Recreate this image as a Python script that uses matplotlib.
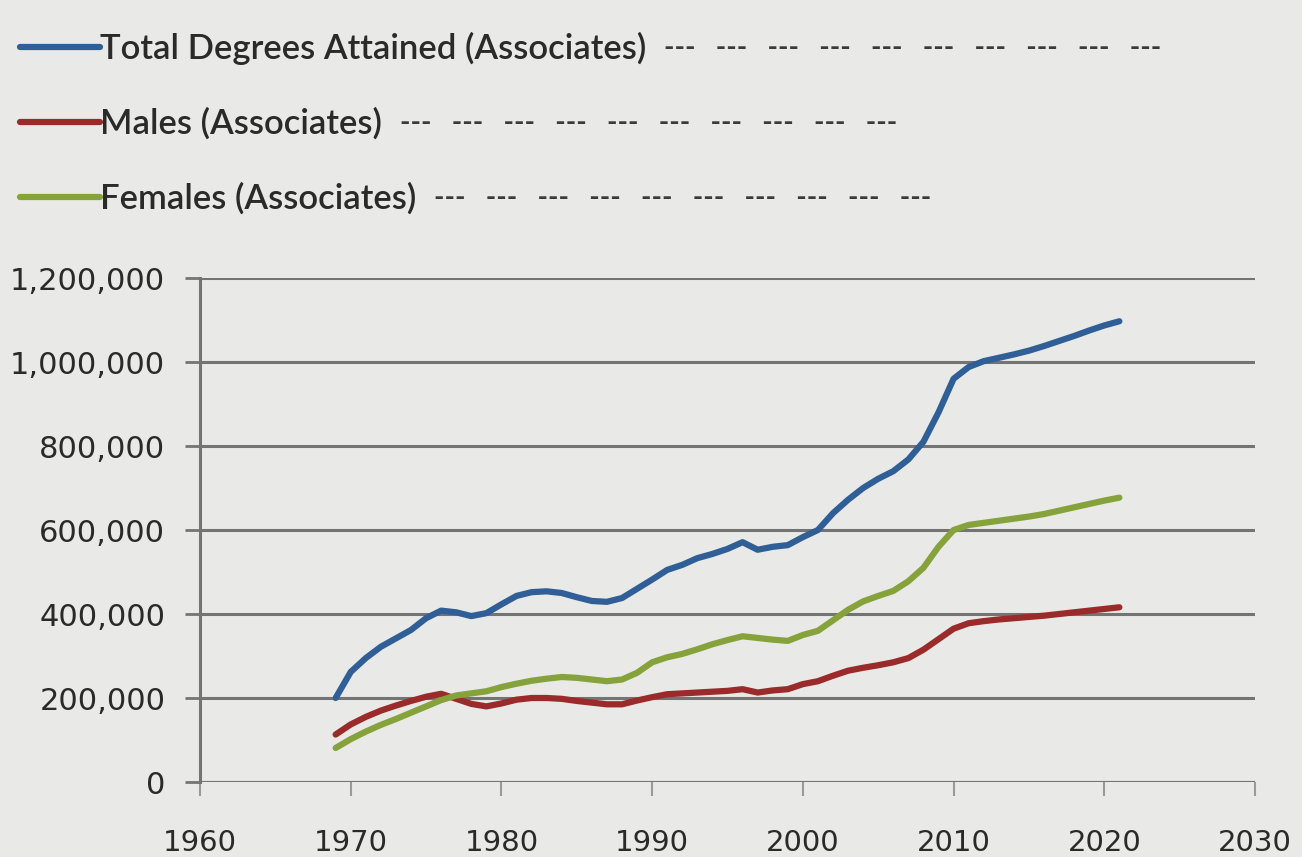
import matplotlib
matplotlib.use("Agg")
import matplotlib.pyplot as plt
from matplotlib.ticker import FuncFormatter, MultipleLocator
from matplotlib.font_manager import FontProperties

years = list(range(1969, 2022))
total = [200, 262, 295, 322, 342, 362, 390, 408, 404, 395, 402, 423, 443, 452, 454,
         450, 440, 431, 429, 438, 460, 482, 505, 517, 533, 543, 555, 571, 553, 560,
         564, 583, 600, 640, 672, 700, 722, 740, 768, 810, 880, 960, 988, 1002, 1010,
         1018, 1027, 1038, 1050, 1062, 1075, 1087, 1097]
males = [113, 137, 155, 170, 182, 193, 203, 210, 198, 186, 180, 187, 196, 200, 200,
         198, 193, 189, 185, 185, 194, 202, 209, 211, 213, 215, 217, 221, 213, 218,
         221, 233, 240, 253, 265, 272, 278, 285, 295, 315, 340, 365, 378, 383, 387,
         390, 393, 396, 400, 404, 408, 412, 416]
females = [81, 102, 120, 136, 150, 165, 180, 195, 206, 211, 216, 226, 234, 241, 246,
           250, 248, 244, 240, 244, 260, 285, 297, 305, 316, 328, 338, 347, 343, 339,
           336, 350, 360, 385, 410, 430, 443, 455, 478, 510, 560, 600, 612, 617, 622,
           627, 632, 638, 646, 654, 662, 670, 677]
labels = ["Total Degrees Attained (Associates)", "Males (Associates)", "Females (Associates)"]
colors = ["#2f5f96", "#9a2b2a", "#86a23b"]
dash_counts = [10, 10, 10]

bg = "#e9e9e7"
grid_c = "#747474"
text_c = "#2a2a2a"

plt.rcParams["font.family"] = ["DejaVu Sans"]

fig = plt.figure(figsize=(13.02, 8.57), dpi=100, facecolor=bg)
ax = fig.add_axes([200 / 1302, 1 - 782 / 857, (1255 - 200) / 1302, (782 - 278) / 857])
ax.set_facecolor(bg)

series = [total, males, females]
handles = []
for vals, c, lab in zip(series, colors, labels):
    h, = ax.plot(years, [v * 1000 for v in vals], color=c, lw=4.5,
                 solid_joinstyle="round", solid_capstyle="round", label=lab)
    handles.append(h)

ax.set_xlim(1960, 2030)
ax.set_ylim(0, 1200000)
ax.xaxis.set_major_locator(MultipleLocator(10))
ax.yaxis.set_major_locator(MultipleLocator(200000))
ax.yaxis.set_major_formatter(FuncFormatter(lambda v, p: f"{int(v):,}"))
ax.grid(axis="y", color=grid_c, lw=2.2)
ax.set_axisbelow(True)
for s in ["top", "right", "bottom"]:
    ax.spines[s].set_visible(False)
ax.spines["left"].set_color(grid_c)
ax.spines["left"].set_linewidth(2.2)
ax.axhline(0, color=grid_c, lw=2.2, zorder=0.5)
ax.tick_params(axis="y", length=11, width=2, color=grid_c, pad=14,
               labelsize=22, labelcolor=text_c)
ax.tick_params(axis="x", length=10, width=1.5, color="#9a9a9a", pad=24,
               labelsize=21, labelcolor=text_c)

leg_prop = FontProperties(family=["Lato", "DejaVu Sans"], size=24.9, weight="semibold")
leg = fig.legend(handles=handles, loc="upper left", bbox_to_anchor=(20 / 1302, 1 - 32 / 857),
                 frameon=False, handlelength=2.31, handletextpad=0.0, labelspacing=1.23,
                 borderpad=0, borderaxespad=0, prop=leg_prop)
for t in leg.get_texts():
    t.set_color(text_c)

# trailing dash groups after each legend entry
fig.canvas.draw()
renderer = fig.canvas.get_renderer()
_, _, desc = renderer.get_text_width_height_descent("lp", leg_prop, ismath=False)
W, H = fig.bbox.width, fig.bbox.height
for t, n in zip(leg.get_texts(), dash_counts):
    bb = t.get_window_extent(renderer)
    baseline = bb.y0 + desc
    fig.text((bb.x1 + 18) / W, (baseline + 3) / H, "   ".join(["---"] * n),
             ha="left", va="baseline", color="#3a3a3a",
             family=["Lato", "DejaVu Sans"], size=20, weight="bold")

fig.savefig("out.png", dpi=100, facecolor=bg)
